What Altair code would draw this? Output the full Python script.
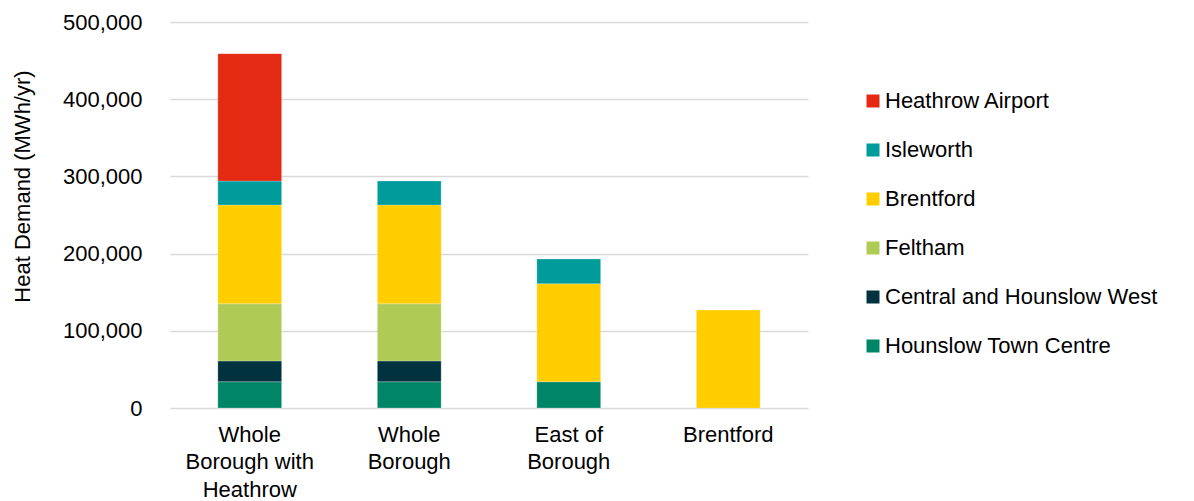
import altair as alt
import pandas as pd

categories = ["Whole|Borough with|Heathrow", "Whole|Borough", "East of|Borough", "Brentford"]
series = ["Heathrow Airport", "Isleworth", "Brentford", "Feltham",
          "Central and Hounslow West", "Hounslow Town Centre"]
colors = ["#E52A14", "#009B9B", "#FFCD00", "#AFCB56", "#00333F", "#008566"]

hounslow_tc = [34000, 34000, 34000, 0]
central_hw = [27000, 27000, 0, 0]
feltham = [74000, 74000, 0, 0]
brentford = [128000, 128000, 127000, 127000]
isleworth = [31000, 31000, 32000, 0]
heathrow = [165000, 0, 0, 0]

values = {
    "Hounslow Town Centre": hounslow_tc,
    "Central and Hounslow West": central_hw,
    "Feltham": feltham,
    "Brentford": brentford,
    "Isleworth": isleworth,
    "Heathrow Airport": heathrow,
}
stack_order = ["Hounslow Town Centre", "Central and Hounslow West", "Feltham",
               "Brentford", "Isleworth", "Heathrow Airport"]

rows = []
for s in stack_order:
    for c, v in zip(categories, values[s]):
        if v > 0:
            rows.append({"cat": c, "series": s, "value": v, "ord": stack_order.index(s)})
df = pd.DataFrame(rows)

FONT = "Liberation Sans"

chart = alt.Chart(df).mark_bar(stroke="#ffffff", strokeWidth=0.4, strokeOpacity=0.6).encode(
    x=alt.X("cat:N", sort=categories, title=None,
            scale=alt.Scale(paddingInner=0.6, paddingOuter=0.3),
            axis=alt.Axis(labelExpr="split(datum.value, '|')", labelAngle=0,
                          labelFontSize=22, labelFont=FONT, labelColor="#000000",
                          labelLineHeight=27.5, labelPadding=16, ticks=False,
                          domain=False, labelBaseline="top")),
    y=alt.Y("value:Q", stack="zero", title="Heat Demand (MWh/yr)",
            scale=alt.Scale(domain=[0, 500000], nice=False),
            axis=alt.Axis(values=[0, 100000, 200000, 300000, 400000, 500000],
                          format=",.0f", labelFontSize=22, labelFont=FONT,
                          labelColor="#000000", labelPadding=28, ticks=False,
                          domain=False, grid=True, gridColor="#D9D9D9", gridWidth=1.5,
                          titleFontSize=22, titleFont=FONT, titleFontWeight="normal",
                          titleColor="#000000", titleAngle=270, titleBaseline="middle",
                          titleAlign="center", titleX=-148, titleY=164)),
    color=alt.Color("series:N", title=None,
                    scale=alt.Scale(domain=series, range=colors),
                    legend=alt.Legend(orient="none", legendX=692, legendY=68,
                                      symbolType="square", symbolSize=169,
                                      symbolStrokeWidth=0, labelFontSize=22,
                                      labelFont=FONT, labelColor="#000000",
                                      rowPadding=27, labelOffset=1, padding=0,
                                      labelLimit=400)),
    order=alt.Order("ord:Q", sort="ascending"),
).properties(
    width=638, height=386,
    autosize=alt.AutoSizeParams(type="none"),
    padding={"left": 162, "top": 14, "right": 370, "bottom": 90},
).configure(background="#ffffff").configure_view(stroke=None, strokeWidth=0)

chart.save("out.html", embed_options={"renderer": "svg", "actions": False})
